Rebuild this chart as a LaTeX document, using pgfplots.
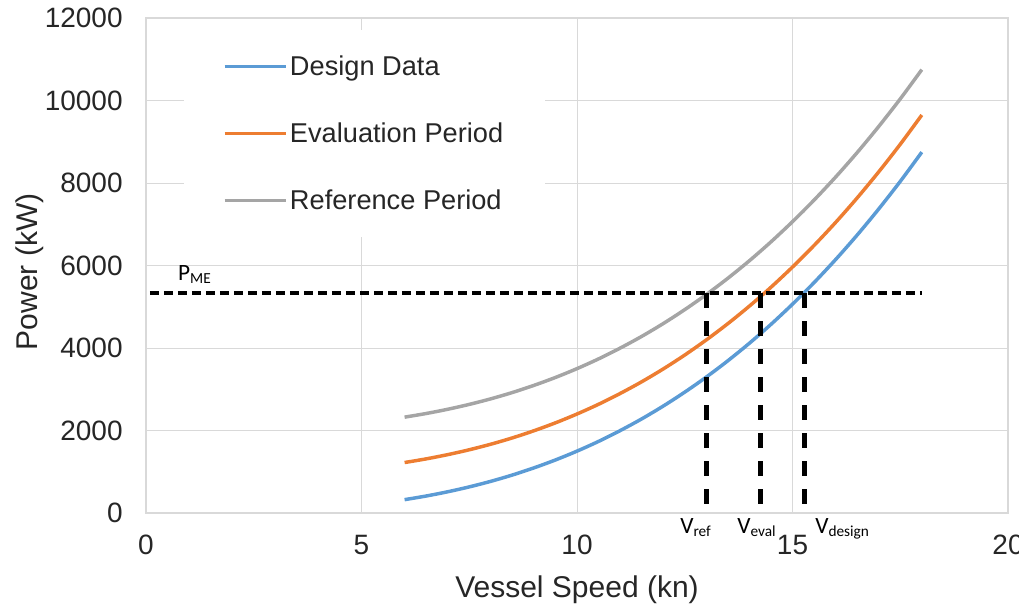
\documentclass[border=0pt]{standalone}
\usepackage{fontspec}
\setmainfont{Liberation Sans}
\newfontfamily\carlito{Carlito}
\usepackage{pgfplots}
\pgfplotsset{compat=1.18}
\definecolor{cBlue}{RGB}{91,155,213}
\definecolor{cOrange}{RGB}{237,125,49}
\definecolor{cGray}{RGB}{165,165,165}
\definecolor{cGrid}{RGB}{217,217,217}
\definecolor{cText}{RGB}{38,38,38}
\begin{document}
\begin{tikzpicture}
\path[use as bounding box] (-109.5pt,-71.25pt) rectangle (654.75pt,384.75pt);
\begin{axis}[
  scale only axis, width=646.5pt, height=371.25pt,
  xmin=0, xmax=20, ymin=0, ymax=12000,
  xtick={0,5,10,15,20}, ytick={0,2000,4000,6000,8000,10000,12000},
  grid=major, major grid style={cGrid, line width=0.75pt},
  axis line style={cGrid, line width=0.9pt},
  tick style={draw=none},
  /pgf/number format/assume math mode=true,
  scaled y ticks=false,
  yticklabel={\pgfmathprintnumber[fixed,1000 sep={}]{\tick}},
  ticklabel style={font=\fontsize{21}{24}\selectfont, text=cText},
  yticklabel style={xshift=-14pt},
  xticklabel style={yshift=-13pt},
  xlabel={Vessel Speed (kn)}, ylabel={Power (kW)},
  label style={font=\fontsize{22.5}{26}\selectfont, text=cText},
  xlabel style={at={(axis description cs:0.5,-0.1556)}, anchor=center},
  ylabel style={at={(axis description cs:-0.1346,0.487)}, anchor=center},
  legend style={at={(axis cs:0.88,11710)}, anchor=north west, draw=none, fill=white,
    font=\fontsize{20.4}{24}\selectfont, text=cText, row sep=30pt, inner xsep=29pt, inner ysep=17pt},
  legend cell align=left,
  legend image code/.code={\draw[#1] (-1.5pt,0pt) -- (44.25pt,0pt);},
]
\addplot[cBlue, line width=2.6pt, smooth] coordinates {
(6,324) (6.5,412) (7,515) (7.5,633) (8,768) (8.5,921) (9,1094) (9.5,1286) (10,1500)
(10.5,1736) (11,1997) (11.5,2281) (12,2592) (12.5,2930) (13,3296) (13.5,3691) (14,4116)
(14.5,4573) (15,5063) (15.5,5586) (16,6144) (16.5,6738) (17,7370) (17.5,8039) (18,8748)};
\addlegendentry{Design Data}
\addplot[cOrange, line width=2.6pt, smooth] coordinates {
(6,1224) (6.5,1312) (7,1415) (7.5,1533) (8,1668) (8.5,1821) (9,1994) (9.5,2186) (10,2400)
(10.5,2636) (11,2897) (11.5,3181) (12,3492) (12.5,3830) (13,4196) (13.5,4591) (14,5016)
(14.5,5473) (15,5963) (15.5,6486) (16,7044) (16.5,7638) (17,8270) (17.5,8939) (18,9648)};
\addlegendentry{Evaluation Period}
\addplot[cGray, line width=2.6pt, smooth] coordinates {
(6,2324) (6.5,2412) (7,2515) (7.5,2633) (8,2768) (8.5,2921) (9,3094) (9.5,3286) (10,3500)
(10.5,3736) (11,3997) (11.5,4281) (12,4592) (12.5,4930) (13,5296) (13.5,5691) (14,6116)
(14.5,6573) (15,7063) (15.5,7586) (16,8144) (16.5,8738) (17,9370) (17.5,10039) (18,10748)};
\addlegendentry{Reference Period}
\addplot[black, line width=3pt, dash pattern=on 6.75pt off 3.75pt, forget plot] coordinates {(0.09,5333) (18,5333)};
\addplot[black, line width=3.75pt, dash pattern=on 11.25pt off 9.75pt, forget plot] coordinates {(13.0,5333) (13.0,70)};
\addplot[black, line width=3.75pt, dash pattern=on 11.25pt off 9.75pt, forget plot] coordinates {(14.26,5333) (14.26,70)};
\addplot[black, line width=3.75pt, dash pattern=on 11.25pt off 9.75pt, forget plot] coordinates {(15.27,5333) (15.27,70)};
\node[anchor=base west, inner sep=0pt, font=\carlito\fontsize{17.5}{20}\selectfont] at (axis cs:0.74,5648) {P\raisebox{-0.35ex}{\fontsize{11.5}{12}\selectfont ME}};
\end{axis}
\begin{scope}[font=\carlito\fontsize{17.5}{20}\selectfont]
\node[anchor=base west, inner sep=0pt] at (400.5pt,-15pt) {V\raisebox{-0.35ex}{\fontsize{11.5}{12}\selectfont ref}};
\node[anchor=base west, inner sep=0pt] at (443.25pt,-15pt) {V\raisebox{-0.35ex}{\fontsize{11.5}{12}\selectfont eval}};
\node[anchor=base west, inner sep=0pt] at (501.75pt,-15pt) {V\raisebox{-0.35ex}{\fontsize{11.5}{12}\selectfont design}};
\end{scope}
\end{tikzpicture}
\end{document}
